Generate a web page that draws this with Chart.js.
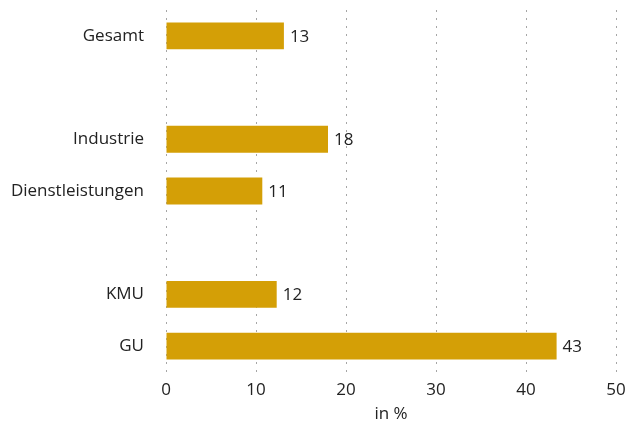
<!DOCTYPE html>
<html lang="de">
<head>
<meta charset="UTF-8">
<title>Anteil in %</title>
<script src="https://cdn.jsdelivr.net/npm/chart.js"></script>
<style>
    body { margin: 0; padding: 0; background: #fff; }
    .chart-container { width: 628px; height: 424px; position: relative; }
</style>
</head>
<body>
<div class="chart-container">
    <canvas id="mainCanvas"></canvas>
</div>
<script>
    // Kategorien (leere Einträge = Abstände zwischen den Gruppen)
    const categories = ['Gesamt', '', 'Industrie', 'Dienstleistungen', '', 'KMU', 'GU'];
    const values = [13.1, null, 18, 10.7, null, 12.3, 43.4];
    const valueLabels = ['13', '', '18', '11', '', '12', '43'];
    const xTicks = [0, 10, 20, 30, 40, 50];

    const fontFamily = "'Open Sans', 'Noto Sans', sans-serif";
    const fontSize = 17;
    const textColor = '#222';

    // Werte rechts neben die Balken schreiben
    const valueLabelPlugin = {
        id: 'valueLabels',
        afterDatasetsDraw(chart) {
            const ctx = chart.ctx;
            const meta = chart.getDatasetMeta(0);
            ctx.save();
            ctx.font = fontSize + 'px ' + fontFamily;
            ctx.fillStyle = textColor;
            ctx.textBaseline = 'middle';
            ctx.textAlign = 'left';
            meta.data.forEach((bar, i) => {
                if (values[i] === null) return;
                ctx.fillText(valueLabels[i], bar.x + 6, bar.y + 1);
            });
            ctx.restore();
        }
    };

    const ctx = document.getElementById('mainCanvas').getContext('2d');
    new Chart(ctx, {
        type: 'bar',
        data: {
            labels: categories,
            datasets: [{
                data: values,
                backgroundColor: '#D49F06',
                borderWidth: 0,
                barPercentage: 0.52,
                categoryPercentage: 1.0
            }]
        },
        options: {
            indexAxis: 'y',
            responsive: true,
            maintainAspectRatio: false,
            animation: false,
            layout: { padding: { top: 10, right: 12, left: 0, bottom: 0 } },
            plugins: {
                legend: { display: false },
                tooltip: { enabled: false }
            },
            scales: {
                x: {
                    min: 0,
                    max: 50,
                    afterBuildTicks: (scale) => { scale.ticks = xTicks.map(v => ({ value: v })); },
                    afterFit: (scale) => {
                        scale.height = 52;
                        scale.paddingLeft = 0;
                        scale.paddingRight = 0;
                    },
                    grid: {
                        color: '#a6a6a6',
                        lineWidth: 1,
                        drawTicks: false
                    },
                    border: { display: false, dash: [2, 6] },
                    ticks: {
                        color: textColor,
                        font: { family: fontFamily, size: fontSize },
                        padding: 8
                    },
                    title: {
                        display: true,
                        text: 'in %',
                        color: textColor,
                        font: { family: fontFamily, size: fontSize },
                        padding: { top: 0, bottom: 0 }
                    }
                },
                y: {
                    afterFit: (scale) => {
                        scale.width = 166;
                        scale.paddingTop = 0;
                        scale.paddingBottom = 0;
                    },
                    grid: { display: false, drawTicks: false },
                    border: { display: false },
                    ticks: {
                        color: textColor,
                        font: { family: fontFamily, size: fontSize },
                        padding: 22
                    }
                }
            }
        },
        plugins: [valueLabelPlugin]
    });
</script>
</body>
</html>
